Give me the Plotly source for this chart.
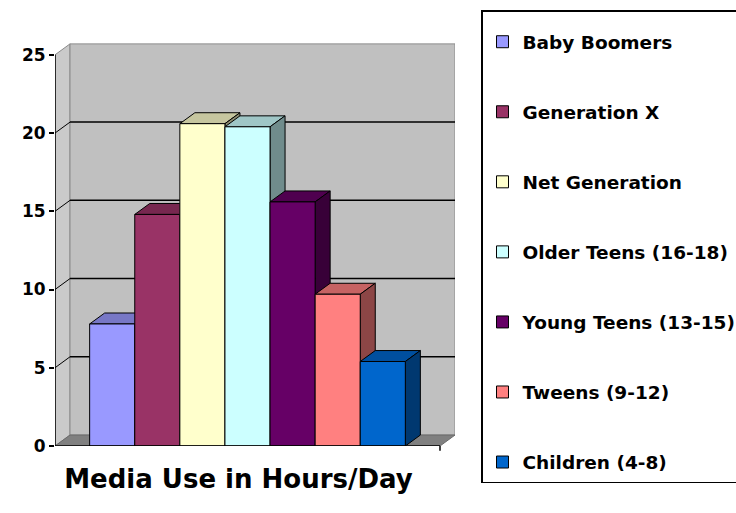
import plotly.graph_objects as go

# ---------------- data ----------------
category = ["Media Use in Hours/Day"]
series = ["Baby Boomers", "Generation X", "Net Generation", "Older Teens (16-18)",
          "Young Teens (13-15)", "Tweens (9-12)", "Children (4-8)"]
hours = [7.8, 14.8, 20.6, 20.4, 15.6, 9.7, 5.4]
colors = ["#9999FF", "#993366", "#FFFFCC", "#CCFFFF", "#660066", "#FF8080", "#0066CC"]
ytick_vals = [0, 5, 10, 15, 20, 25]

# ---------------- geometry / style ----------------
FONT = "DejaVu Sans, Arial, sans-serif"
GROUP = 0.82                 # fraction of category occupied by bar group
W = GROUP / len(series)      # bar width (category units)
DX = 0.039                   # depth offset in x (category units)
DY = 0.70                    # depth offset in y (data units)
YMAX = 25


def shade(hexcol, f):
    h = hexcol.lstrip("#")
    r, g, b = (int(h[i:i + 2], 16) for i in (0, 2, 4))
    return "#%02X%02X%02X" % (int(r * f), int(g * f), int(b * f))


def path(pts):
    return "M " + " L ".join(f"{x},{y}" for x, y in pts) + " Z"


fig = go.Figure()

for i, (name, val, col) in enumerate(zip(series, hours, colors)):
    fig.add_trace(go.Bar(
        x=category, y=[val], name=name,
        width=W, offset=-GROUP / 2 + i * W,
        marker=dict(color=col, line=dict(color="black", width=1)),
        legendgroup=name,
    ))

shapes = []
L, R = -0.5, 0.5
# left side wall
shapes.append(dict(type="path", xref="x", yref="y", layer="below",
                   path=path([(L, 0), (L, YMAX), (L + DX, YMAX + DY), (L + DX, DY)]),
                   fillcolor="#CACACA", line=dict(color="#8A8A8A", width=1)))
# back wall
shapes.append(dict(type="rect", xref="x", yref="y", layer="below",
                   x0=L + DX, x1=R + DX, y0=DY, y1=YMAX + DY,
                   fillcolor="#C0C0C0", line=dict(color="#8A8A8A", width=1)))
# floor
shapes.append(dict(type="path", xref="x", yref="y", layer="below",
                   path=path([(L, 0), (R, 0), (R + DX, DY), (L + DX, DY)]),
                   fillcolor="#808080", line=dict(color="#6A6A6A", width=1)))
# gridlines on walls
for v in ytick_vals[1:-1]:
    shapes.append(dict(type="line", xref="x", yref="y", layer="below",
                       x0=L + DX, x1=R + DX, y0=v + DY, y1=v + DY,
                       line=dict(color="black", width=1.5)))
    shapes.append(dict(type="line", xref="x", yref="y", layer="below",
                       x0=L, x1=L + DX, y0=v, y1=v + DY,
                       line=dict(color="black", width=1)))
# 3D top and side faces of bars
for i, (val, col) in enumerate(zip(hours, colors)):
    x0 = -GROUP / 2 + i * W
    x1 = x0 + W
    shapes.append(dict(type="path", xref="x", yref="y", layer="below",
                       path=path([(x0, val), (x1, val), (x1 + DX, val + DY), (x0 + DX, val + DY)]),
                       fillcolor=shade(col, 0.78), line=dict(color="black", width=1)))
    shapes.append(dict(type="path", xref="x", yref="y", layer="below",
                       path=path([(x1, 0), (x1, val), (x1 + DX, val + DY), (x1 + DX, DY)]),
                       fillcolor=shade(col, 0.55), line=dict(color="black", width=1)))
# front axis lines
shapes.append(dict(type="line", xref="x", yref="y", layer="above",
                   x0=L, x1=L, y0=0, y1=YMAX, line=dict(color="black", width=1.5)))
shapes.append(dict(type="line", xref="x", yref="y", layer="above",
                   x0=L, x1=R, y0=0, y1=0, line=dict(color="black", width=1.5)))
shapes.append(dict(type="line", xref="x", yref="paper", layer="above",
                   x0=R, x1=R, y0=0, y1=-0.012, line=dict(color="black", width=1.5)))

fig.update_layout(
    width=736, height=513,
    margin=dict(l=55, r=281, t=42, b=67, autoexpand=False),
    paper_bgcolor="white", plot_bgcolor="white",
    barmode="overlay",
    shapes=shapes,
    font=dict(family=FONT, color="black"),
    xaxis=dict(type="category", range=[-0.5, 0.539], showgrid=False, zeroline=False,
               showline=False, ticks="", ticklabelstandoff=15, ticklabelshift=-9,
               tickfont=dict(size=26, family=FONT, weight="bold", color="black")),
    yaxis=dict(range=[0, 25.82], tickvals=ytick_vals, showgrid=False, zeroline=False,
               showline=False, ticks="outside", ticklen=5, tickcolor="black", tickwidth=1.5,
               tickfont=dict(size=17, family=FONT, weight="bold", color="black")),
    legend=dict(xref="container", yref="container", x=481 / 736, y=1 - 10 / 513,
                xanchor="left", yanchor="top", traceorder="grouped",
                bgcolor="white", bordercolor="black", borderwidth=1.5,
                tracegroupgap=43, itemclick=False, maxheight=700,
                title=dict(text=" ", font=dict(size=9)),
                font=dict(size=18.5, family=FONT, weight="bold", color="black")),
    showlegend=True,
)

fig.write_html("out.html")
